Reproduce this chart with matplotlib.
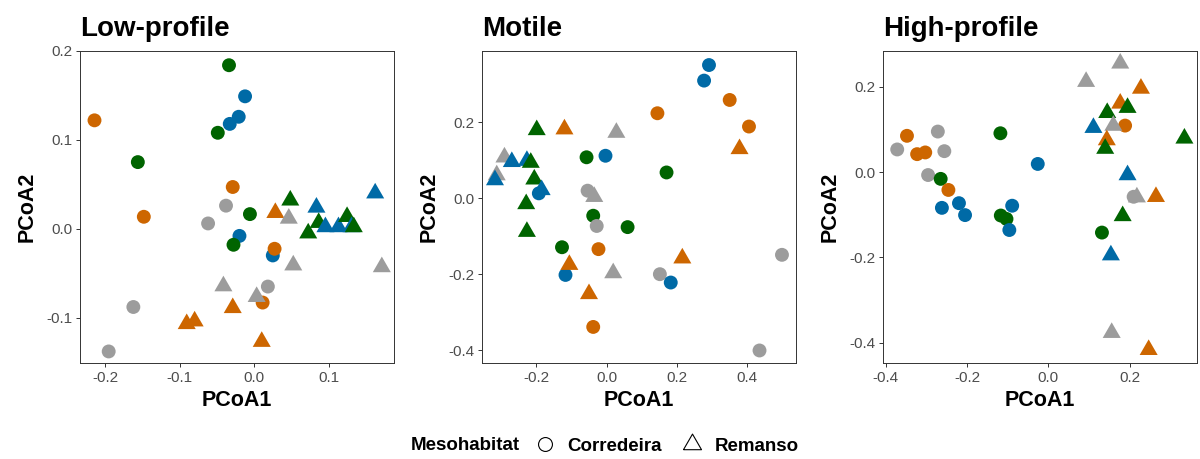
import matplotlib.pyplot as plt
from matplotlib.lines import Line2D

plt.rcParams['font.family'] = ['Liberation Sans', 'DejaVu Sans']
plt.rcParams['axes.unicode_minus'] = False

COLORS = {'orange': '#CD6600', 'green': '#006400',
          'blue': '#006AA6', 'gray': '#9C9C9C'}

# equilateral triangle centred on its centroid (closed path)
TRI = [(-1, -0.577), (1, -0.577), (0, 1.155), (-1, -0.577)]

titles = ['Low-profile', 'Motile', 'High-profile']

# Low-profile
low_circ_x = [-0.214, -0.034, -0.0125, -0.021, -0.033, -0.049, -0.156, -0.029,
              -0.038, -0.148, -0.062, -0.006, -0.020, -0.028, 0.0246, 0.027,
              0.018, 0.011, -0.162, -0.195]
low_circ_y = [0.122, 0.184, 0.149, 0.126, 0.118, 0.108, 0.075, 0.047,
              0.026, 0.0135, 0.006, 0.0165, -0.008, -0.018, -0.030, -0.0225,
              -0.065, -0.083, -0.088, -0.138]
low_circ_c = ['orange', 'green', 'blue', 'blue', 'blue', 'green', 'green', 'orange',
              'gray', 'orange', 'gray', 'green', 'blue', 'green', 'blue', 'orange',
              'gray', 'orange', 'gray', 'gray']
low_tri_x = [0.1616, 0.048, 0.083, 0.028, 0.046, 0.086, 0.095, 0.072, 0.1125,
             0.124, 0.130, 0.133, 0.052, 0.1705, -0.0415, 0.003, -0.029,
             -0.080, -0.0906, 0.0098]
low_tri_y = [0.040, 0.032, 0.024, 0.018, 0.0116, 0.0068, 0.002, -0.005, 0.002,
             0.0135, 0.002, 0.002, -0.041, -0.043, -0.0645, -0.0765, -0.089,
             -0.104, -0.107, -0.127]
low_tri_c = ['blue', 'green', 'blue', 'orange', 'gray', 'green', 'blue', 'green', 'blue',
             'green', 'blue', 'green', 'gray', 'gray', 'gray', 'gray', 'orange',
             'orange', 'orange', 'orange']

# Motile
mot_circ_x = [0.292, 0.278, 0.351, 0.145, 0.406, -0.057, -0.003, 0.171, -0.054,
              -0.193, -0.038, -0.028, 0.060, -0.127, -0.023, -0.117, 0.152,
              0.183, 0.500, -0.038, 0.436]
mot_circ_y = [0.351, 0.310, 0.259, 0.224, 0.189, 0.108, 0.112, 0.068, 0.020,
              0.013, -0.046, -0.073, -0.076, -0.129, -0.134, -0.202, -0.200,
              -0.222, -0.149, -0.339, -0.401]
mot_circ_c = ['blue', 'blue', 'orange', 'orange', 'orange', 'green', 'blue', 'green', 'gray',
              'blue', 'green', 'gray', 'green', 'green', 'orange', 'blue', 'gray',
              'blue', 'gray', 'orange', 'gray']
mot_tri_x = [-0.199, -0.120, 0.028, 0.379, -0.291, -0.270, -0.227, -0.216,
             -0.313, -0.318, -0.206, -0.185, -0.035, -0.229, -0.227, 0.216,
             -0.106, 0.019, -0.050]
mot_tri_y = [0.180, 0.182, 0.173, 0.130, 0.108, 0.096, 0.099, 0.094, 0.061,
             0.048, 0.050, 0.022, 0.004, -0.015, -0.088, -0.158, -0.175,
             -0.197, -0.252]
mot_tri_c = ['green', 'orange', 'gray', 'orange', 'gray', 'blue', 'blue', 'green',
             'gray', 'blue', 'green', 'blue', 'gray', 'green', 'green', 'orange',
             'orange', 'gray', 'orange']

# High-profile
high_circ_x = [-0.372, -0.348, -0.272, -0.323, -0.303, -0.256, -0.296, -0.265,
               -0.246, -0.262, -0.220, -0.205, -0.118, -0.026, -0.089, -0.117,
               -0.103, -0.096, 0.132, 0.189, 0.210]
high_circ_y = [0.053, 0.085, 0.095, 0.042, 0.046, 0.049, -0.007, -0.016,
               -0.042, -0.084, -0.073, -0.101, 0.091, 0.019, -0.079, -0.102,
               -0.110, -0.136, -0.142, 0.109, -0.058]
high_circ_c = ['gray', 'orange', 'gray', 'orange', 'orange', 'gray', 'gray', 'green',
               'orange', 'blue', 'blue', 'blue', 'green', 'blue', 'blue', 'green',
               'green', 'blue', 'green', 'orange', 'gray']
high_tri_x = [0.177, 0.093, 0.228, 0.177, 0.145, 0.195, 0.111, 0.160, 0.144,
              0.140, 0.335, 0.195, 0.218, 0.265, 0.183, 0.154, 0.156, 0.247]
high_tri_y = [0.255, 0.212, 0.196, 0.161, 0.139, 0.151, 0.104, 0.109, 0.075,
              0.055, 0.079, -0.007, -0.059, -0.058, -0.103, -0.195, -0.377, -0.417]
high_tri_c = ['gray', 'gray', 'orange', 'orange', 'green', 'green', 'blue', 'gray', 'orange',
              'green', 'green', 'blue', 'gray', 'orange', 'green', 'blue', 'gray', 'orange']

panels = [
    (low_circ_x, low_circ_y, low_circ_c, low_tri_x, low_tri_y, low_tri_c),
    (mot_circ_x, mot_circ_y, mot_circ_c, mot_tri_x, mot_tri_y, mot_tri_c),
    (high_circ_x, high_circ_y, high_circ_c, high_tri_x, high_tri_y, high_tri_c),
]
xlims = [(-0.2334, 0.1868), (-0.355, 0.540), (-0.407, 0.366)]
ylims = [(-0.151, 0.2), (-0.434, 0.388), (-0.448, 0.284)]
xticks = [[-0.2, -0.1, 0.0, 0.1], [-0.2, 0.0, 0.2, 0.4], [-0.4, -0.2, 0.0, 0.2]]
yticks = [[-0.1, 0.0, 0.1, 0.2], [-0.4, -0.2, 0.0, 0.2], [-0.4, -0.2, 0.0, 0.2]]

fig = plt.figure(figsize=(12, 4.59), dpi=100)
lefts = [80, 482, 883]

for i, (cx, cy, cc, tx, ty, tc) in enumerate(panels):
    ax = fig.add_axes([lefts[i] / 1200, 96 / 459, 314 / 1200, 312 / 459])
    ax.scatter(cx, cy, c=[COLORS[k] for k in cc], marker='o', s=100,
               linewidths=0)
    ax.scatter(tx, ty, c=[COLORS[k] for k in tc], marker=TRI, s=225,
               linewidths=0)
    ax.set_xlim(xlims[i])
    ax.set_ylim(ylims[i])
    ax.set_xticks(xticks[i])
    ax.set_yticks(yticks[i])
    ax.set_xticklabels([f'{v:.1f}' for v in xticks[i]])
    ax.set_yticklabels([f'{v:.1f}' for v in yticks[i]])
    ax.tick_params(length=3, width=0.7, color='#333333', labelcolor='#4D4D4D',
                   labelsize=11, pad=2.5)
    for sp in ax.spines.values():
        sp.set_color('#333333')
        sp.set_linewidth(0.7)
    ax.set_xlabel('PCoA1', fontsize=15.5, fontweight='bold', labelpad=4)
    ax.set_ylabel('PCoA2', fontsize=15.5, fontweight='bold', labelpad=6)
    ax.set_title(titles[i], loc='left', fontsize=20, fontweight='bold', pad=11)

# shape legend along the bottom
handles = [
    Line2D([], [], marker='o', ls='', markerfacecolor='none',
           markeredgecolor='black', markersize=10, markeredgewidth=0.8),
    Line2D([], [], marker=TRI, ls='', markerfacecolor='none',
           markeredgecolor='black', markersize=15, markeredgewidth=0.8),
]
fig.text(520 / 1200, 1 - 446 / 459, 'Mesohabitat', ha='right', va='center',
         fontsize=13.5, fontweight='bold')
fig.legend(handles, ['Corredeira', 'Remanso'], ncol=2, frameon=False,
           loc='center', bbox_to_anchor=(666 / 1200, 1 - 446 / 459),
           prop={'size': 13.5, 'weight': 'bold'}, handletextpad=0.6,
           columnspacing=1.0, handlelength=1.2)

fig.savefig('out.png', dpi=100)
